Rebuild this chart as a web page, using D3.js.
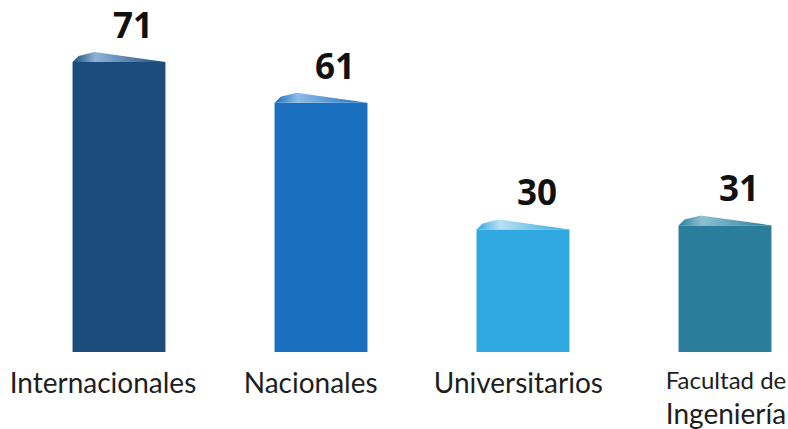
<html>
  <head>
    <meta charset="utf-8" />
    <script src="https://d3js.org/d3.v7.min.js"></script>
    <style>
      body { margin: 0; background: #fff; }
      .value { font: bold 35px "Open Sans", sans-serif; fill: #111; }
      .cat { font: 28px Lato, sans-serif; fill: #1e1e1e; }
    </style>
  </head>
  <body>
    <svg id="chart" width="788" height="429"></svg>
    <script>
      // data
      var categories = ["Internacionales", "Nacionales", "Universitarios", "Facultad de Ingeniería"];
      var values = [71, 61, 30, 31];
      var colors = ["#1c4c7c", "#1a6fbf", "#30a9e1", "#2a7d9b"];
      var capColors = ["#8fb3d6", "#8cbbe8", "#b8dff4", "#8ec0d2"];

      var svg = d3.select("#chart"),
        baseline = 352,
        plotTop = 62;

      var x = d3.scaleBand()
        .domain(categories)
        .range([18, 826])
        .paddingInner(0.54)
        .paddingOuter(0.27);

      var y = d3.scaleLinear()
        .domain([0, d3.max(values)])
        .range([baseline, plotTop]);

      // label positions along the bottom
      var xl = d3.scalePoint().domain(categories).range([103, 726]);

      var data = categories.map((c, i) => ({ cat: c, value: values[i], color: colors[i], cap: capColors[i] }));

      var defs = svg.append("defs");
      data.forEach(function (d, i) {
        var g = defs.append("linearGradient")
          .attr("id", "cap" + i)
          .attr("x1", "0").attr("y1", "0").attr("x2", "1").attr("y2", "0");
        g.append("stop").attr("offset", "0").attr("stop-color", d.color);
        g.append("stop").attr("offset", "0.25").attr("stop-color", d.cap);
        g.append("stop").attr("offset", "1").attr("stop-color", d.color);
      });

      var bars = svg.selectAll(".bar").data(data).enter().append("g").attr("class", "bar");

      bars.append("rect")
        .attr("x", d => x(d.cat))
        .attr("y", d => y(d.value))
        .attr("width", x.bandwidth())
        .attr("height", d => y(0) - y(d.value))
        .attr("fill", d => d.color);

      // slanted cap on top of each bar
      bars.append("path")
        .attr("d", function (d) {
          var x0 = x(d.cat), x1 = x0 + x.bandwidth(), t = y(d.value);
          return "M" + x0 + "," + t + "L" + (x0 + 6) + "," + (t - 6) + "L" + (x0 + 22) + "," + (t - 10) + "L" + x1 + "," + t + "Z";
        })
        .attr("fill", (d, i) => "url(#cap" + i + ")");

      bars.append("text")
        .attr("class", "value")
        .attr("text-anchor", "middle")
        .attr("x", d => x(d.cat) + x.bandwidth() / 2 + 14)
        .attr("y", d => y(d.value) - 24)
        .text(d => d.value);

      bars.each(function (d) {
        var g = d3.select(this);
        if (d.cat === "Facultad de Ingeniería") {
          g.append("text").attr("class", "cat").attr("text-anchor", "middle")
            .attr("x", xl(d.cat)).attr("y", 389).style("font-size", "24px").text("Facultad de");
          g.append("text").attr("class", "cat").attr("text-anchor", "middle")
            .attr("x", xl(d.cat)).attr("y", 424).text("Ingeniería");
        } else {
          g.append("text").attr("class", "cat").attr("text-anchor", "middle")
            .attr("x", xl(d.cat)).attr("y", 393).text(d.cat);
        }
      });
    </script>
  </body>
</html>
